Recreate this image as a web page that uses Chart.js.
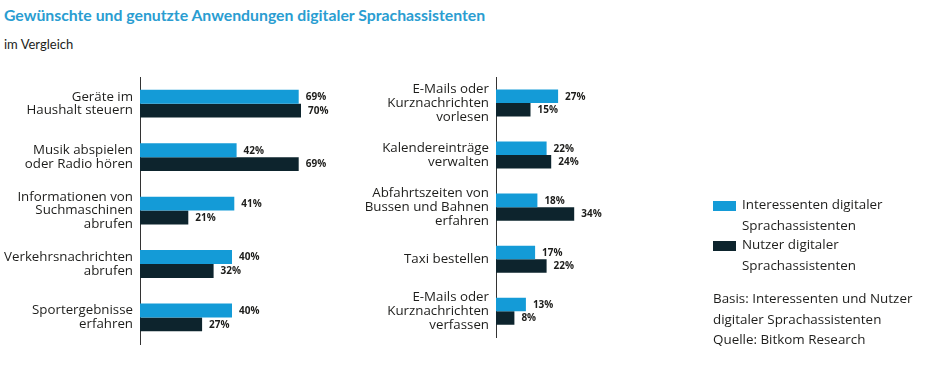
<!DOCTYPE html>
<html>
<head>
<meta charset="utf-8">
<script src="https://cdn.jsdelivr.net/npm/chart.js@4/dist/chart.umd.min.js"></script>
<style>
  html,body{margin:0;padding:0;background:#fff;}
  body{width:928px;height:365px;position:relative;overflow:hidden;font-family:"Open Sans","Noto Sans",sans-serif;color:#1d1d1b;}
  #title{position:absolute;left:4px;top:5px;font-family:Lato,sans-serif;font-size:15.8px;font-weight:bold;color:#2a9dd1;white-space:nowrap;}
  #subtitle{position:absolute;left:4px;top:36px;font-family:Lato,sans-serif;font-size:13px;white-space:nowrap;}
  .cv{position:absolute;top:0;}
  #c1{left:0;}
  #c2{left:356px;}
  .sw{position:absolute;left:713px;width:23px;height:10px;}
  .lt{position:absolute;left:742px;font-size:13.4px;line-height:21px;white-space:nowrap;}
  #note{position:absolute;left:713px;top:288px;font-size:13.4px;line-height:20.5px;white-space:nowrap;}
</style>
</head>
<body>
<div id="title">Gewünschte und genutzte Anwendungen digitaler Sprachassistenten</div>
<div id="subtitle">im Vergleich</div>
<div class="cv" id="c1"><canvas id="chart1" width="364" height="365"></canvas></div>
<div class="cv" id="c2"><canvas id="chart2" width="364" height="365"></canvas></div>
<div class="sw" id="sw1" style="top:201px;"></div>
<div class="lt" style="top:194px;">Interessenten digitaler<br>Sprachassistenten</div>
<div class="sw" id="sw2" style="top:241px;"></div>
<div class="lt" style="top:234px;">Nutzer digitaler<br>Sprachassistenten</div>
<div id="note">Basis: Interessenten und Nutzer<br>digitaler Sprachassistenten<br>Quelle: Bitkom Research</div>
<script>
// ---- Data ----
const seriesNames = ["Interessenten digitaler Sprachassistenten", "Nutzer digitaler Sprachassistenten"];
const leftCategories = [
  ["Geräte im", "Haushalt steuern"],
  ["Musik abspielen", "oder Radio hören"],
  ["Informationen von", "Suchmaschinen", "abrufen"],
  ["Verkehrsnachrichten", "abrufen"],
  ["Sportergebnisse", "erfahren"]
];
const leftInteressenten = [69, 42, 41, 40, 40];
const leftNutzer = [70, 69, 21, 32, 27];
const rightCategories = [
  ["E-Mails oder", "Kurznachrichten", "vorlesen"],
  ["Kalendereinträge", "verwalten"],
  ["Abfahrtszeiten von", "Bussen und Bahnen", "erfahren"],
  ["Taxi bestellen"],
  ["E-Mails oder", "Kurznachrichten", "verfassen"]
];
const rightInteressenten = [27, 22, 18, 17, 13];
const rightNutzer = [15, 24, 34, 22, 8];

const BLUE = "#149bd7";
const DARK = "#0d242d";
document.getElementById("sw1").style.background = BLUE;
document.getElementById("sw2").style.background = DARK;

const valueLabels = {
  id: "valueLabels",
  afterDatasetsDraw(chart) {
    const ctx = chart.ctx;
    ctx.save();
    ctx.font = "bold 10px 'Open Sans', 'Noto Sans', sans-serif";
    ctx.fillStyle = "#1d1d1b";
    ctx.textBaseline = "middle";
    ctx.textAlign = "left";
    chart.data.datasets.forEach((ds, i) => {
      chart.getDatasetMeta(i).data.forEach((bar, j) => {
        ctx.fillText(ds.data[j] + "%", bar.x + 7, bar.y + 0.5);
      });
    });
    ctx.restore();
  }
};

function makeChart(id, cats, a, b) {
  return new Chart(document.getElementById(id), {
    type: "bar",
    data: {
      labels: cats,
      datasets: [
        { label: seriesNames[0], data: a, backgroundColor: BLUE, categoryPercentage: 0.52, barPercentage: 1.0 },
        { label: seriesNames[1], data: b, backgroundColor: DARK, categoryPercentage: 0.52, barPercentage: 1.0 }
      ]
    },
    options: {
      indexAxis: "y",
      responsive: false,
      animation: false,
      layout: { padding: { top: 77, bottom: 20, left: 0, right: 40 } },
      plugins: { legend: { display: false }, tooltip: { enabled: false } },
      scales: {
        x: { display: false, min: 0, max: 80 },
        y: {
          afterFit: (s) => { s.width = 140; },
          grid: { display: false, drawTicks: false },
          border: { display: true, color: "#333", width: 1 },
          ticks: {
            padding: 7,
            color: "#1d1d1b",
            font: { family: "'Open Sans', 'Noto Sans', sans-serif", size: 13.3, lineHeight: 1.04 }
          }
        }
      }
    },
    plugins: [valueLabels]
  });
}
makeChart("chart1", leftCategories, leftInteressenten, leftNutzer);
makeChart("chart2", rightCategories, rightInteressenten, rightNutzer);
</script>
</body>
</html>
